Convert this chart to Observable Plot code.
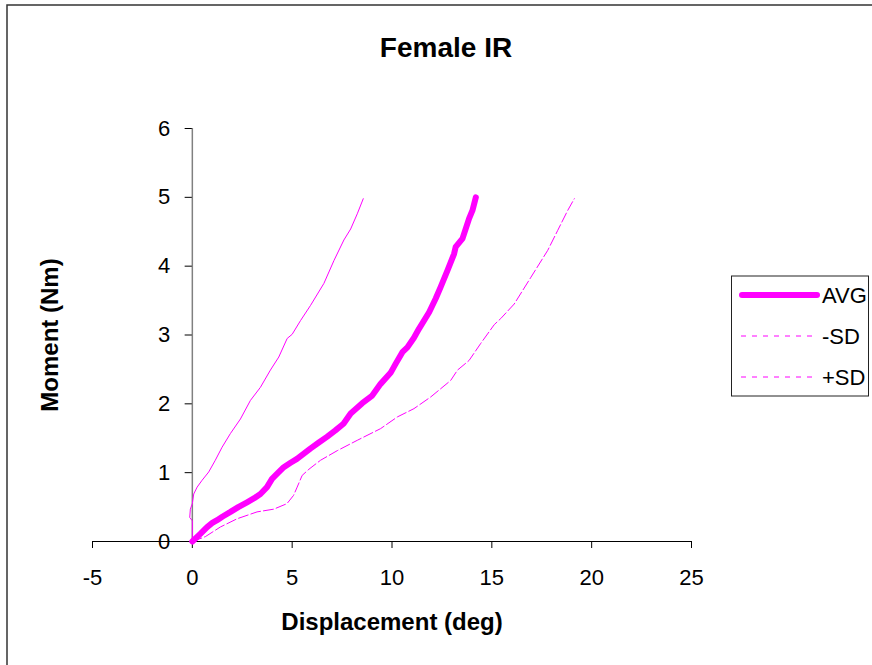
<!DOCTYPE html>
<html>
<head>
<meta charset="utf-8">
<script src="https://cdn.jsdelivr.net/npm/d3@7"></script>
<script src="https://cdn.jsdelivr.net/npm/@observablehq/plot@0.6"></script>
<style>
  html, body { margin: 0; padding: 0; background: #fff; }
  #chart { width: 872px; height: 665px; overflow: hidden; }
</style>
</head>
<body>
<div id="chart"></div>
<script>
// Female IR: moment vs displacement, average curve with ±1 SD bounds
const avgDisp = [0, 0.4, 0.74, 1.0, 1.24, 1.5, 1.91, 2.3, 2.74, 3.1, 3.41, 3.74, 3.99, 4.3, 4.58, 4.9, 5.24, 5.6, 5.91, 6.3, 6.74, 7.15, 7.57, 7.93, 8.51, 9.01, 9.43, 9.93, 10.18, 10.52, 10.77, 11.1, 11.35, 11.86, 12.19, 12.44, 12.78, 13.11, 13.19, 13.53, 13.86, 14.03, 14.2];
const avgMoment = [0, 0.11, 0.21, 0.27, 0.31, 0.36, 0.43, 0.5, 0.57, 0.63, 0.69, 0.79, 0.91, 1.0, 1.08, 1.14, 1.2, 1.28, 1.35, 1.43, 1.52, 1.61, 1.71, 1.86, 2.01, 2.12, 2.29, 2.45, 2.58, 2.75, 2.82, 2.96, 3.09, 3.33, 3.53, 3.7, 3.94, 4.18, 4.28, 4.4, 4.69, 4.81, 5.0];

const minusSdDisp = [0, 0, -0.13, -0.1, 0, 0.07, 0.24, 0.49, 0.82, 1.15, 1.49, 1.91, 2.41, 2.91, 3.41, 3.91, 4.33, 4.75, 5.0, 5.42, 5.92, 6.59, 7.09, 7.59, 7.93, 8.26, 8.56];
const minusSdMoment = [0, 0.3, 0.35, 0.47, 0.55, 0.69, 0.79, 0.89, 1.01, 1.18, 1.37, 1.57, 1.78, 2.05, 2.24, 2.49, 2.68, 2.95, 3.01, 3.21, 3.43, 3.75, 4.08, 4.38, 4.54, 4.76, 4.98];

const plusSdDisp = [0, 0.65, 1.4, 2.24, 3.24, 4.08, 4.74, 5.07, 5.25, 5.5, 5.84, 6.42, 7.26, 8.26, 9.43, 10.27, 11.1, 11.94, 12.94, 13.28, 13.86, 14.45, 15.12, 15.45, 16.12, 16.96, 17.8, 18.3, 18.8, 19.13];
const plusSdMoment = [0, 0.07, 0.21, 0.33, 0.43, 0.47, 0.55, 0.67, 0.79, 0.96, 1.05, 1.18, 1.32, 1.47, 1.64, 1.81, 1.93, 2.1, 2.34, 2.49, 2.63, 2.88, 3.15, 3.24, 3.45, 3.84, 4.23, 4.52, 4.81, 4.98];

const xTicks = [-5, 0, 5, 10, 15, 20, 25];
const yTicks = [0, 1, 2, 3, 4, 5, 6];
const seriesNames = ["AVG", "-SD", "+SD"];

const toPoints = (xs, ys) => xs.map((x, i) => ({x, y: ys[i]}));
const avg = toPoints(avgDisp, avgMoment);
const minusSd = toPoints(minusSdDisp, minusSdMoment);
const plusSd = toPoints(plusSdDisp, plusSdMoment);

const MAGENTA = "#ff00ff";
const FONT = "'Liberation Sans', Arial, Helvetica, sans-serif";

const chart = Plot.plot({
  width: 872,
  height: 665,
  marginLeft: 92,
  marginRight: 181,
  marginTop: 128,
  marginBottom: 124,
  style: {fontFamily: FONT, background: "#fff", color: "#000", overflow: "visible"},
  x: {domain: [-5, 25]},
  y: {domain: [0, 6], axis: null},
  marks: [
    // x axis along y = 0
    Plot.ruleY([0], {stroke: "#000", strokeWidth: 1}),
    Plot.axisX(xTicks, {tickSize: 7, tickPadding: 21, tickFormat: d => String(d), fontSize: 22, label: null, stroke: "#000"}),
    // y axis crossing at x = 0
    Plot.ruleX([0], {y1: 0, y2: 6, stroke: "#808080", strokeWidth: 1.5}),
    Plot.ruleY(yTicks, {y: d => d, x1: -0.36, x2: 0, stroke: "#000", strokeWidth: 1}),
    Plot.text(yTicks, {x: 0, y: d => d, text: d => String(d), dx: -22, textAnchor: "end", fontSize: 22, fill: "#000"}),
    // titles
    Plot.text(["Female IR"], {frameAnchor: "top", lineAnchor: "middle", dx: 54, dy: -80, fontSize: 28, fontWeight: "bold", fill: "#000"}),
    Plot.text(["Displacement (deg)"], {frameAnchor: "bottom", lineAnchor: "middle", dy: 81, fontSize: 24, fontWeight: "bold", fill: "#000"}),
    Plot.text(["Moment (Nm)"], {frameAnchor: "left", dx: -42, rotate: -90, textAnchor: "middle", fontSize: 24, fontWeight: "bold", fill: "#000"}),
    // series
    Plot.line(minusSd, {x: "x", y: "y", stroke: MAGENTA, strokeWidth: 1}),
    Plot.line(plusSd, {x: "x", y: "y", stroke: MAGENTA, strokeWidth: 1, strokeDasharray: "10,3"}),
    Plot.line(avg, {x: "x", y: "y", stroke: MAGENTA, strokeWidth: 6, strokeLinecap: "round", strokeLinejoin: "round"})
  ]
});

document.getElementById("chart").appendChild(chart);

// outer chart border and legend box
const svg = d3.select(chart);
svg.append("path")
  .attr("d", "M7,670 L7,5 L880,5")
  .attr("fill", "none")
  .attr("stroke", "#333")
  .attr("stroke-width", 1.5);

const legend = svg.append("g")
  .attr("font-family", FONT)
  .attr("font-size", 22)
  .attr("text-anchor", "start");
legend.append("rect")
  .attr("x", 731.5).attr("y", 276).attr("width", 137).attr("height", 120)
  .attr("fill", "#fff").attr("stroke", "#222").attr("stroke-width", 1);

const legendStyles = [
  {width: 6, dash: null, cap: "round"},
  {width: 1, dash: "5,6", cap: "butt"},
  {width: 1, dash: "5,6", cap: "butt"}
];
seriesNames.forEach((name, i) => {
  const cy = 295 + i * 41;
  const s = legendStyles[i];
  legend.append("line")
    .attr("x1", i === 0 ? 742 : 741).attr("x2", i === 0 ? 817 : 812)
    .attr("y1", cy).attr("y2", cy)
    .attr("stroke", MAGENTA).attr("stroke-width", s.width)
    .attr("stroke-linecap", s.cap)
    .attr("stroke-dasharray", s.dash);
  legend.append("text")
    .attr("x", 822).attr("y", cy).attr("dy", "0.35em")
    .attr("text-anchor", "start")
    .attr("fill", "#000")
    .text(name);
});
</script>
</body>
</html>
